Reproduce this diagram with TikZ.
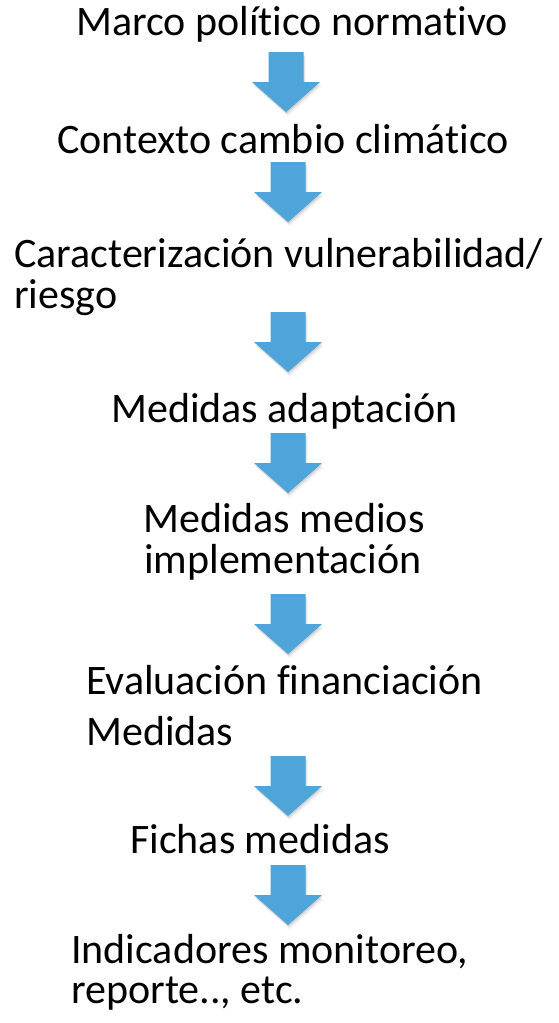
\documentclass[tikz,border=0pt]{standalone}
\usepackage{fontspec}
\setmainfont[Ligatures=NoCommon]{Carlito}
\definecolor{arrowblue}{HTML}{4FA5DA}
\tikzset{
  lbl/.style={anchor=base west, inner sep=0pt, font=\fontsize{42}{50}\selectfont, text=black},
  downarr/.pic={
    \fill[black, opacity=0.05, shift={(2,4)}] (-17.5,-30) -- (17.5,-30) -- (17.5,0) -- (34,0) -- (0,30) -- (-34,0) -- (-17.5,0) -- cycle;
    \fill[black, opacity=0.07, shift={(1,2.5)}] (-17.5,-30) -- (17.5,-30) -- (17.5,0) -- (34,0) -- (0,30) -- (-34,0) -- (-17.5,0) -- cycle;
    \fill[black, opacity=0.08, shift={(0.5,1.2)}] (-17.5,-30) -- (17.5,-30) -- (17.5,0) -- (34,0) -- (0,30) -- (-34,0) -- (-17.5,0) -- cycle;
    \fill[arrowblue] (-17.5,-30) -- (17.5,-30) -- (17.5,0) -- (34,0) -- (0,30) -- (-34,0) -- (-17.5,0) -- cycle;
  }
}
\begin{document}
\begin{tikzpicture}[x=1pt,y=-1pt]
\useasboundingbox (0,0) rectangle (559,1023);
% texts
\node[lbl] (t1) at (76,35) {Marco político normativo};
\node[lbl] (t2) at (57,153) {Contexto cambio climático};
\node[lbl] (t3a) at (14,267) {Caracterización vulnerabilidad/};
\node[lbl] (t3b) at (14,308) {riesgo};
\node[lbl] (t4) at (111,422) {Medidas adaptación};
\node[lbl] (t5a) at (143,532) {Medidas medios};
\node[lbl] (t5b) at (144,573) {implementación};
\node[lbl] (t6a) at (86,694) {Evaluación financiación};
\node[lbl] (t6b) at (86,745) {Medidas};
\node[lbl] (t7) at (130,853) {Fichas medidas};
\node[lbl] (t8a) at (71,963) {Indicadores monitoreo,};
\node[lbl] (t8b) at (71,1003) {reporte.., etc.};
% arrows
\pic (a1) at (286,82) {downarr};
\pic (a2) at (288,192) {downarr};
\pic (a3) at (288,342) {downarr};
\pic (a4) at (288,463) {downarr};
\pic (a5) at (288,624) {downarr};
\pic (a6) at (288,786) {downarr};
\pic (a7) at (288,895) {downarr};
\end{tikzpicture}
\end{document}
